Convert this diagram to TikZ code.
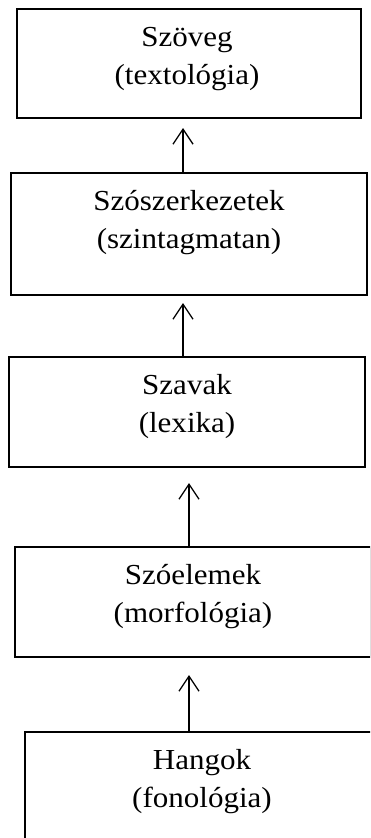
\documentclass[tikz,border=0pt]{standalone}
\usepackage{fontspec}
\setmainfont{Liberation Serif}[FakeStretch=1.07]
\usetikzlibrary{arrows.meta}
\tikzset{
  box/.style={draw=black, line width=1.6pt, rectangle, inner sep=0pt, outer sep=0pt},
  txt/.style={font=\fontsize{29pt}{38pt}\selectfont, inner sep=0pt, anchor=base},
  arr/.style={line width=1.3pt, -{Straight Barb[length=15pt,width=20pt,line width=1.3pt]}}
}
\begin{document}
\begin{tikzpicture}[x=1pt,y=1pt]
\useasboundingbox (0,0) rectangle (370,-838);
\clip (0,0) rectangle (370,-838);
\node[box, minimum width=344pt, minimum height=109pt] (b1) at (189,-63.5) {};
\node[box, minimum width=356pt, minimum height=122pt] (b2) at (189,-234) {};
\node[box, minimum width=356pt, minimum height=110pt] (b3) at (187,-412) {};
\node[box, minimum width=356pt, minimum height=110pt] (b4) at (193,-602) {};
\node[box, minimum width=354pt, minimum height=110pt] (b5) at (202,-787) {};
\node[txt] (t1a) at ([xshift=-2pt,yshift=-37pt]b1.north) {Szöveg};
\node[txt] (t1b) at ([xshift=-2pt,yshift=-75pt]b1.north) {(textológia)};
\node[txt] (t2a) at ([yshift=-37pt]b2.north) {Szószerkezetek};
\node[txt] (t2b) at ([yshift=-75pt]b2.north) {(szintagmatan)};
\node[txt] (t3a) at ([yshift=-37pt]b3.north) {Szavak};
\node[txt] (t3b) at ([yshift=-75pt]b3.north) {(lexika)};
\node[txt] (t4a) at ([yshift=-37pt]b4.north) {Szóelemek};
\node[txt] (t4b) at ([yshift=-75pt]b4.north) {(morfológia)};
\node[txt] (t5a) at ([yshift=-37pt]b5.north) {Hangok};
\node[txt] (t5b) at ([yshift=-75pt]b5.north) {(fonológia)};
\draw[arr] ([xshift=-6pt]b2.north) -- ([xshift=-6pt,yshift=-10pt]b1.south);
\draw[arr] ([xshift=-4pt]b3.north) -- ([xshift=-6pt,yshift=-8pt]b2.south);
\draw[arr] ([xshift=-4pt]b4.north) -- ([xshift=2pt,yshift=-16pt]b3.south);
\draw[arr] ([xshift=-13pt]b5.north) -- ([xshift=-4pt,yshift=-18pt]b4.south);
\end{tikzpicture}
\end{document}
